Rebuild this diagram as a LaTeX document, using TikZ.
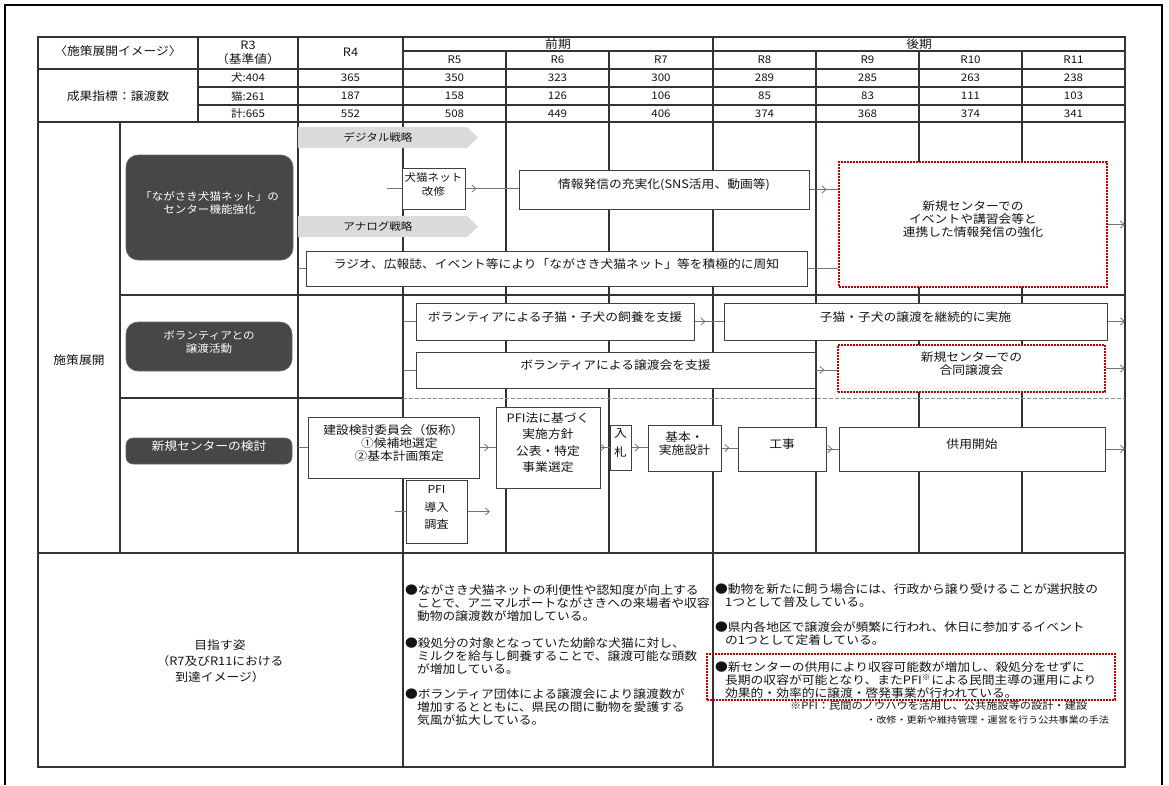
\documentclass[tikz,border=0pt]{standalone}
\usepackage{fontspec}
\setmainfont{Noto Sans CJK JP}[FakeStretch=1.1]
\usetikzlibrary{fit,arrows.meta,decorations.markings}
\newcommand\fz[2]{\fontsize{#1}{#2}\selectfont}
\begin{document}
\begin{tikzpicture}[x=1pt,y=-1pt,
  gridline/.style={draw=black!80,line width=1.1pt},
  dashline/.style={draw=black!45,line width=1pt,dash pattern=on 4pt off 2pt},
  box/.style={draw=black!75,line width=1pt,fill=white,inner sep=0pt,align=center,font=\fz{11.6}{13},text=black!92},
  darkbox/.style={fill=black!72,draw=black!60,line width=0.6pt,rounded corners=12pt,inner sep=0pt,align=center,text=white,font=\fz{10.5}{13}},
  redbox/.style={box,draw=red!75!black,line width=2.2pt,dash pattern=on 1.6pt off 1.4pt},
  band/.style={fill=black!14,draw=none},
  lbl/.style={inner sep=0pt,align=center,font=\fz{11.6}{14},text=black!92},
  num/.style={inner sep=0pt,font=\fz{10.5}{12},text=black!92},
  txt/.style={inner sep=0pt,anchor=west,font=\fz{11.6}{13},text=black!92},
  note/.style={inner sep=0pt,anchor=west,text=black!92},
  conn/.style={draw=black!55,line width=0.8pt},
  tipend/.style={-{Straight Barb[length=4pt,width=7pt]}},
  flow/.style={conn,postaction={decorate},decoration={markings,mark=at position #1 with {\arrow{Straight Barb[length=4pt,width=7pt]}}}},
  flow/.default=0.6
]
\useasboundingbox (0,0) rectangle (1169,785);
% outer frame
\draw[line width=2pt,black] (5,785) -- (5,5) -- (1162,5) -- (1162,785);

% ---------- grid ----------
\draw[gridline] (38,37) rectangle (1125,767);
% header horizontals
\draw[gridline] (403,51) -- (1125,51);
\draw[gridline] (38,69) -- (1125,69);
\draw[gridline] (198,87) -- (1125,87);
\draw[gridline] (198,105) -- (1125,105);
\draw[gridline] (38,122) -- (1125,122);
% header verticals
\foreach \x in {198,298,403,713} \draw[gridline] (\x,37) -- (\x,122);
\foreach \x in {506,609,816,919,1022} \draw[gridline] (\x,51) -- (\x,122);
% body
\foreach \x in {120,298,403,506,609,713,816,919,1022} \draw[gridline] (\x,122) -- (\x,553);
\draw[gridline] (120,295) -- (1125,295);
\draw[gridline] (120,398) -- (403,398);
\draw[dashline] (403,398) -- (1125,398);
\draw[gridline] (38,553) -- (1125,553);
\draw[gridline] (403,553) -- (403,767);
\draw[gridline] (713,553) -- (713,767);

% ---------- header texts ----------
\node[lbl] (hdr) at (118,51) {〈施策展開イメージ〉};
\node[lbl] (r3) at (248,53) {R3\\（基準値）};
\node[lbl] (r4) at (350.5,52) {R4};
\node[lbl] (zenki) at (558,44) {前期};
\node[lbl] (kouki) at (919,44) {後期};
\foreach \n/\x in {5/454.5,6/557.5,7/661,8/764.5,9/867.5,10/970.5,11/1073.5}
  \node[num] (h\n) at (\x,60) {R\n};
\node[lbl] (kpi) at (118,96) {成果指標：譲渡数};
\foreach \c/\x/\a/\b/\s in {3/248/犬:404/猫:261/計:665,4/350.5/365/187/552,5/454.5/350/158/508,6/557.5/323/126/449,7/661/300/106/406,8/764.5/289/85/374,9/867.5/285/83/368,10/970.5/263/111/374,11/1073.5/238/103/341}{
  \node[num] (d\c) at (\x,78) {\a};
  \node[num] (c\c) at (\x,96) {\b};
  \node[num] (t\c) at (\x,113.5) {\s};
}

% ---------- section 1 ----------
\node[darkbox,fit={(126,155)(293,260)}] (dark1) {「ながさき犬猫ネット」の\\センター機能強化};
\fill[band] (298,127) -- (467,127) -- (478,137.5) -- (467,148) -- (298,148) -- cycle;
\node[lbl,font=\fz{10.5}{12}] (dig) at (378,137.5) {デジタル戦略};
\fill[band] (298,216) -- (467,216) -- (478,226.5) -- (467,237) -- (298,237) -- cycle;
\node[lbl,font=\fz{10.5}{12}] (ana) at (378,226.5) {アナログ戦略};
\node[box,font=\fz{10.5}{14},fit={(402,168)(465,209)}] (dog) {犬猫ネット\\改修};
\node[box,fit={(519,170)(809,209)}] (info) {情報発信の充実化(SNS活用、動画等)};
\node[box,fit={(306,251)(807,286)}] (radio) {ラジオ、広報誌、イベント等により「ながさき犬猫ネット」等を積極的に周知};
\node[redbox,fit={(839,162)(1107,287)}] (red1) {新規センターでの\\イベントや講習会等と\\連携した情報発信の強化};
\coordinate (s1) at (387,188.5);
\draw[conn] (s1) -- (s1 -| dog.west);
\draw[flow=11pt] (dog.east) -- (dog.east -| info.west);
\draw[flow] (info.east) -- (info.east -| red1.west);
\coordinate (s2) at (298,268.5);
\draw[conn] (s2) -- (radio.west);
\draw[conn] (radio.east) -- (radio.east -| red1.west);
\coordinate (o1) at (1125,224.5);
\draw[conn,tipend] (red1.east) -- (o1);

% ---------- section 2 ----------
\node[darkbox,fit={(126,322)(292,371)}] (dark2) {ボランティアとの\\譲渡活動};
\node[lbl] (sesaku) at (79,360) {施策展開};
\node[box,fit={(416,303)(694,340)}] (sup1) {ボランティアによる子猫・子犬の飼養を支援};
\node[box,fit={(724,303)(1107,340)}] (cont) {子猫・子犬の譲渡を継続的に実施};
\node[box,fit={(416,352)(815,388)}] (joto) {ボランティアによる譲渡会を支援};
\node[redbox,fit={(838,345)(1105,392)}] (red2) {新規センターでの\\合同譲渡会};
\coordinate (s3) at (403,321.5);
\draw[conn] (s3) -- (sup1.west);
\draw[flow=11pt] (sup1.east) -- (cont.west);
\coordinate (o2) at (1125,321.5);
\draw[conn,tipend] (cont.east) -- (o2);
\coordinate (s4) at (403,370);
\draw[conn] (s4) -- (joto.west);
\draw[flow=9pt] (joto.east) -- (joto.east -| red2.west);
\coordinate (o3) at (1125,368.5);
\draw[conn,tipend] (red2.east) -- (o3);

% ---------- section 3 ----------
\node[darkbox,rounded corners=7pt,font=\fz{11.6}{13},fit={(126,438)(292,464)}] (dark3) {新規センターの検討};
\node[box,align=left,fit={(308,417)(479,478)}] (kentou) {建設検討委員会（仮称）\\\hspace*{1em}①候補地選定\\\hspace*{1em}②基本計画策定};
\node[box,font=\fz{11}{17.5},fit={(406,480)(467,543)}] (pfi) {PFI\\導入\\調査};
\node[box,font=\fz{11.6}{16.5},fit={(496,407)(600,488)}] (pfilaw) {PFI法に基づく\\実施方針\\公表・特定\\事業選定};
\node[box,font=\fz{11.6}{19},fit={(610,425)(631,470)}] (nyu) {入\\札};
\node[box,fit={(648,425)(721,471)}] (kihon) {基本・\\実施設計};
\node[box,fit={(738,427)(826,471)}] (kouji) {工事};
\node[box,fit={(839,427)(1105,471)}] (kyoyo) {供用開始};
\coordinate (s5) at (298,447.5);
\draw[conn] (s5) -- (kentou.west);
\draw[flow] (kentou.east) -- (kentou.east -| pfilaw.west);
\coordinate (s6) at (395,511.5);
\draw[conn] (s6) -- (pfi.west);
\coordinate (e6) at (490,511.5);
\draw[conn,tipend] (pfi.east) -- (e6);
\draw[flow=0.5] (pfilaw.east |- nyu.west) -- (nyu.west);
\draw[flow=0.5] (nyu.east) -- (nyu.east -| kihon.west);
\draw[flow=0.5] (kihon.east) -- (kihon.east -| kouji.west);
\draw[flow=0.5] (kouji.east) -- (kouji.east -| kyoyo.west);
\coordinate (o4) at (1125,449);
\draw[conn,tipend] (kyoyo.east) -- (o4);

% ---------- bottom section ----------
\node[lbl,font=\fz{11.6}{16}] (goal) at (220,661) {目指す姿\\（R7及びR11における\\到達イメージ）};
\node[txt] (l1) at (405,590) {●ながさき犬猫ネットの利便性や認知度が向上する};
\node[txt] (l2) at (417,603) {ことで、アニマルポートながさきへの来場者や収容};
\node[txt] (l3) at (417,616) {動物の譲渡数が増加している。};
\node[txt] (l4) at (405,643) {●殺処分の対象となっていた幼齢な犬猫に対し、};
\node[txt] (l5) at (417,656) {ミルクを給与し飼養することで、譲渡可能な頭数};
\node[txt] (l6) at (417,669) {が増加している。};
\node[txt] (l7) at (405,694) {●ボランティア団体による譲渡会により譲渡数が};
\node[txt] (l8) at (417,707) {増加するとともに、県民の間に動物を愛護する};
\node[txt] (l9) at (417,720) {気風が拡大している。};
\node[txt] (q1) at (715,589) {●動物を新たに飼う場合には、行政から譲り受けることが選択肢の};
\node[txt] (q2) at (725,602) {1つとして普及している。};
\node[txt] (q3) at (715,627) {●県内各地区で譲渡会が頻繁に行われ、休日に参加するイベント};
\node[txt] (q4) at (725,640) {の1つとして定着している。};
\node[txt] (q5) at (715,667) {●新センターの供用により収容可能数が増加し、殺処分をせずに};
\node[txt] (q6) at (725,680) {長期の収容が可能となり、またPFI\textsuperscript{※}による民間主導の運用により};
\node[txt] (q7) at (725,693) {効果的・効率的に譲渡・啓発事業が行われている。};
\node[redbox,fill=none,fit={(707,654)(1115,700)}] (red3) {};
\node[note,font=\fz{10.2}{12}] (q8) at (790,706) {※PFI：民間のノウハウを活用し、公共施設等の設計・建設};
\node[note,font=\fz{9.2}{12}] (q9) at (866,720) {・改修・更新や維持管理・運営を行う公共事業の手法};
\end{tikzpicture}
\end{document}
